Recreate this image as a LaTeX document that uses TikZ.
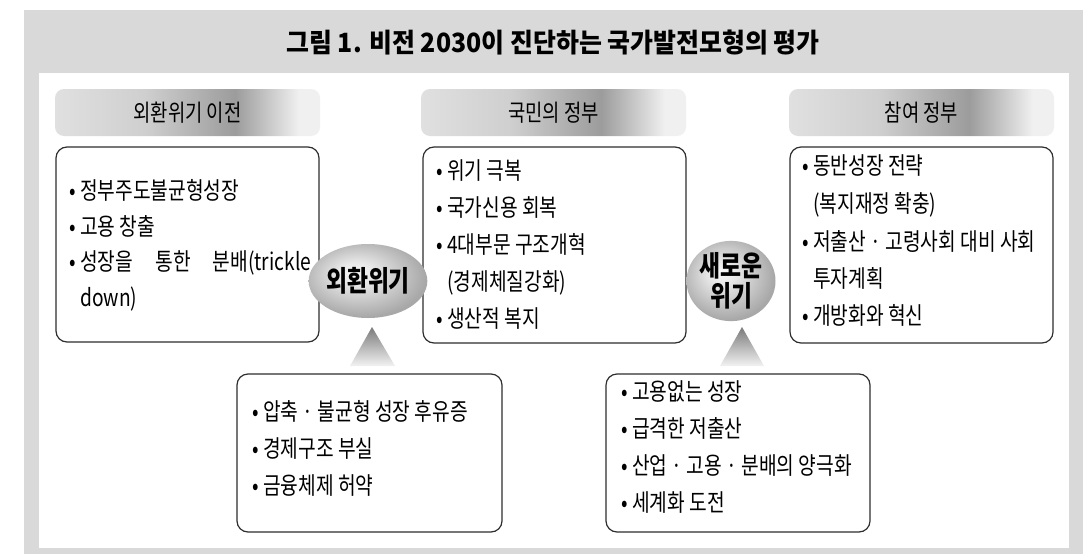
\documentclass[tikz,border=0pt]{standalone}
\usepackage{fontspec}
\newfontfamily\kr[FakeStretch=0.80,WordSpace=1.45]{Noto Sans CJK KR}
\newfontfamily\krt[FakeStretch=0.94]{Noto Sans CJK KR}
\newfontfamily\kre[FakeStretch=0.80]{Noto Sans CJK KR}
\usetikzlibrary{shapes.geometric}
\definecolor{bggray}{HTML}{D9D9D9}
\definecolor{boxline}{HTML}{2E2E2E}
\definecolor{pillA}{HTML}{E0E0E0}
\definecolor{pillB}{HTML}{CFCFCF}
\definecolor{pillC}{HTML}{9C9C9C}
\definecolor{pillD}{HTML}{F0F0F0}
\definecolor{orbA}{HTML}{FAFAFA}
\definecolor{orbB}{HTML}{E6E6E6}
\definecolor{orbC}{HTML}{A8A8A8}
\definecolor{triTop}{HTML}{7A7A7A}
\definecolor{triBot}{HTML}{F2F2F2}
\pgfdeclarehorizontalshading{pillshade}{100bp}{color(0bp)=(pillA); color(25bp)=(pillA); color(42bp)=(pillB); color(59bp)=(pillC); color(71bp)=(pillD); color(75bp)=(pillD); color(100bp)=(pillD)}
\pgfdeclareradialshading{orbshade}{\pgfpoint{-6bp}{6bp}}{color(0bp)=(orbA); color(8bp)=(orbB); color(27bp)=(orbC); color(50bp)=(orbC)}
\newcommand\bul[4]{\node[txt] (#1) at (#2,#3) {\makebox[11pt][l]{•}#4};}
\newcommand\cont[4]{\node[txt] (#1) at (#2,#3) {#4};}
\begin{document}
\begin{tikzpicture}[x=1pt,y=-1pt,
  box/.style={draw=boxline, line width=1.2pt, rounded corners=11pt, rectangle, inner sep=0pt, outer sep=0pt},
  pill/.style={rectangle, rounded corners=9pt, shading=pillshade, inner sep=0pt, minimum width=265pt, minimum height=47pt, font=\kr\fontsize{23.5}{24}\selectfont},
  orb/.style={ellipse, shading=orbshade, inner sep=0pt, minimum height=74pt, align=center, font=\kre\fontsize{28.5}{30}\selectfont\bfseries},
  txt/.style={anchor=base west, inner sep=0pt, font=\kr\fontsize{24}{24}\selectfont},
  tri/.style={shading=axis, top color=triTop, bottom color=triBot}]
\useasboundingbox (0,0) rectangle (1083,554);
\fill[bggray] (24,10) rectangle (1083,554);
\fill[white] (39,73) rectangle (1069,548);
\node[anchor=base, inner sep=0pt, font=\krt\fontsize{26.5}{26}\selectfont\bfseries] (title) at (553,52) {그림 1. 비전 2030이 진단하는 국가발전모형의 평가};
% headers
\node[pill] (h1) at (187.5,112.5) {외환위기 이전};
\node[pill] (h2) at (553.5,112.5) {국민의 정부};
\node[pill] (h3) at (921.5,112.5) {참여 정부};
% boxes
\node[box, minimum width=263pt, minimum height=195pt] (b1) at (187.5,244.5) {};
\node[box, minimum width=263pt, minimum height=196pt] (b2) at (554.5,245) {};
\node[box, minimum width=263pt, minimum height=196pt] (b3) at (921.5,245) {};
\node[box, minimum width=265pt, minimum height=158pt] (b4) at (369.5,453) {};
\node[box, minimum width=264pt, minimum height=158pt] (b5) at (738,453) {};
% left box text
\bul{l1}{69}{199.5}{정부주도불균형성장}
\bul{l2}{69}{235.5}{고용 창출}
\bul{l3}{69}{270.5}{\makebox[231pt][s]{성장을 통한 분배(trickle}}
\cont{l4}{80}{306.5}{down)}
% middle box text
\bul{m1}{436}{179.5}{위기 극복}
\bul{m2}{436}{216.5}{국가신용 회복}
\bul{m3}{436}{253.5}{4대부문 구조개혁}
\cont{m4}{447}{290.5}{(경제체질강화)}
\bul{m5}{436}{327.5}{생산적 복지}
% right box text
\bul{r1}{802}{174.5}{동반성장 전략}
\cont{r2}{813}{212.5}{(복지재정 확충)}
\bul{r3}{802}{250.5}{저출산 · 고령사회 대비 사회}
\cont{r4}{813}{287.5}{투자계획}
\bul{r5}{802}{324.5}{개방화와 혁신}
% bottom-left text
\bul{p1}{252}{420.5}{압축 · 불균형 성장 후유증}
\bul{p2}{252}{457.5}{경제구조 부실}
\bul{p3}{252}{494.5}{금융체제 허약}
% bottom-right text
\bul{q1}{621}{400.5}{고용없는 성장}
\bul{q2}{621}{437.5}{급격한 저출산}
\bul{q3}{621}{474.5}{산업 · 고용 · 분배의 양극화}
\bul{q4}{621}{511.5}{세계화 도전}
% crisis ellipses
\node[orb, minimum width=93pt] (c1) at (368,281) {외환위기};
\node[orb, minimum width=80pt] (c2) at (731,281) {새로운\\위기};
% triangles pointing up to the ellipses
\path[tri] (372,327) -- (395,366) -- (350,366) -- cycle;
\path[tri] (742,327) -- (764,366) -- (720,366) -- cycle;
\end{tikzpicture}
\end{document}
